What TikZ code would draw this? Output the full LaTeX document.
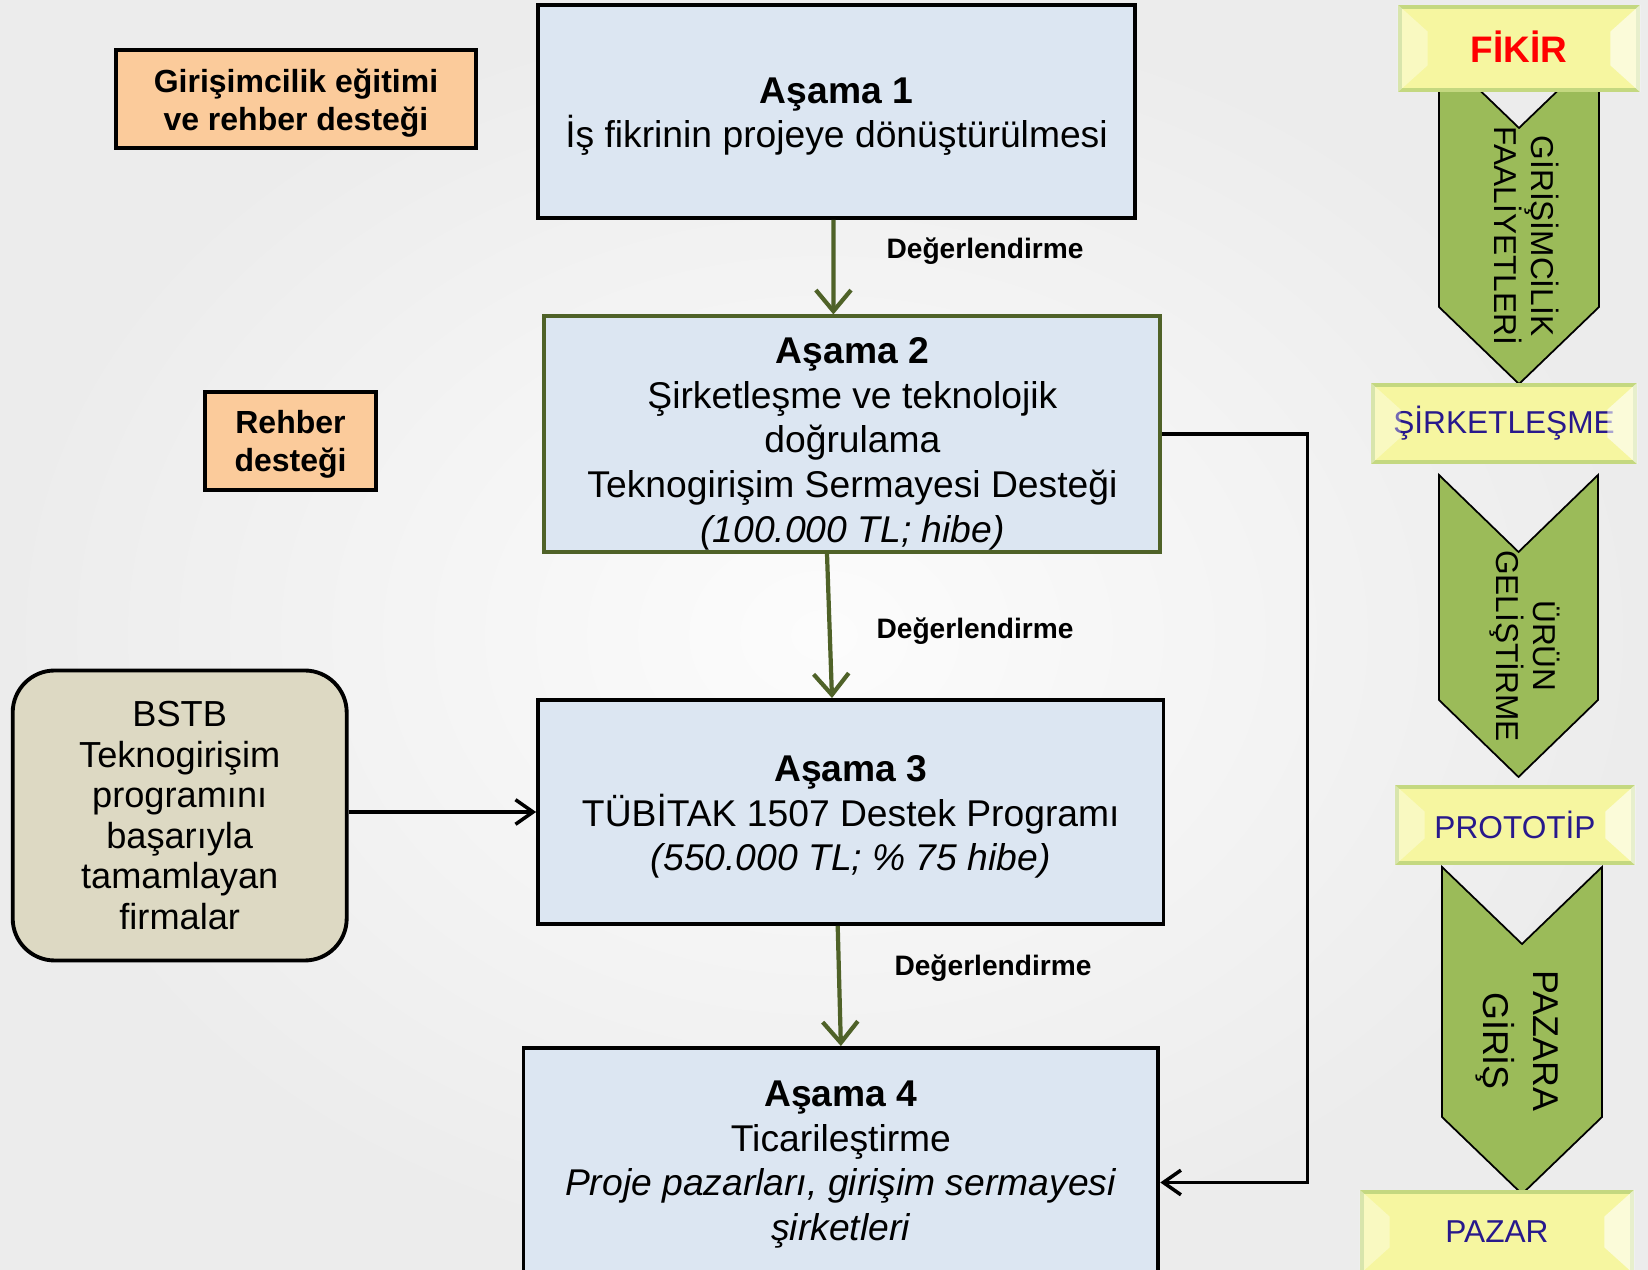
\documentclass[tikz,border=0pt]{standalone}
\usepackage{fontspec}
\setmainfont{Liberation Sans}
\usetikzlibrary{arrows.meta}

\definecolor{bggray}{RGB}{236,236,236}
\definecolor{asamablue}{RGB}{220,230,242}
\definecolor{olivedark}{RGB}{79,98,40}
\definecolor{peach}{RGB}{251,203,155}
\definecolor{khaki}{RGB}{221,217,195}
\definecolor{chevgreen}{RGB}{155,187,89}
\definecolor{lightyellow}{RGB}{246,246,160}
\definecolor{glowgreen}{RGB}{196,216,128}
\definecolor{navytext}{RGB}{40,25,140}

\tikzset{
  asamabox/.style={draw=black, line width=1.1pt, fill=asamablue, inner sep=0pt},
  asamatext/.style={align=center, inner sep=0pt, font=\fontsize{10.6}{12.7}\selectfont},
  peachbox/.style={draw=black, line width=1pt, fill=peach, inner sep=0pt},
  peachtext/.style={align=center, inner sep=0pt, font=\fontsize{9.1}{10.8}\selectfont\bfseries},
  firmbox/.style={draw=black, line width=1.1pt, fill=khaki, rounded corners=0.42cm,
    align=center, inner sep=0pt, font=\fontsize{10.3}{11.5}\selectfont},
  stagebox/.style={draw=glowgreen, line width=1.4pt, fill=lightyellow, inner sep=0pt,
    text=navytext, font=\fontsize{9}{10.8}\selectfont},
  chevron/.style={draw=black, line width=0.5pt, fill=chevgreen},
  chevtext/.style={rotate=-90, align=center, font=\fontsize{9}{10.5}\selectfont},
  evalarrow/.style={draw=olivedark, line width=1.2pt, -{Straight Barb[length=6pt,width=10pt]}},
  blackarrow/.style={draw=black, line width=1pt, -{Straight Barb[length=5pt,width=7pt]}},
  evallabel/.style={font=\fontsize{8}{9.6}\selectfont\bfseries},
}

% light side bevels of a stage box
\newcommand{\stagebevel}[1]{%
  \fill[white,opacity=0.35] (#1.north west) -- ([shift={(0.30,-0.27)}]#1.north west)
    -- ([shift={(0.30,0.27)}]#1.south west) -- (#1.south west) -- cycle;%
  \fill[white,opacity=0.6] (#1.north east) -- ([shift={(-0.30,-0.27)}]#1.north east)
    -- ([shift={(-0.30,0.27)}]#1.south east) -- (#1.south east) -- cycle;%
}

% one green chevron: x left, x right, y top corners, y side bottom
\newcommand{\stagechevron}[4]{%
  \draw[chevron] (#1,#3) -- ({(#1+#2)/2},{#3-0.77}) -- (#2,#3) -- (#2,#4)
    -- ({(#1+#2)/2},{#4-0.77}) -- (#1,#4) -- cycle;%
}

\begin{document}
\begin{tikzpicture}
                \useasboundingbox (0.000000,0.000000) rectangle (16.480000,12.700000);
                \clip (0.000000,0.000000) rectangle (16.480000,12.700000);

                % Drawing background
                \fill[bggray] (0.000000,0.000000) rectangle (16.480000,12.700000);%
                \shade[inner color=white!85!bggray, outer color=bggray] (0.000000,0.000000) rectangle (16.480000,12.700000);%

                % Drawing chevrons of the right column
                \stagechevron{14.390000}{15.990000}{12.190000}{9.630000}
                \stagechevron{14.390000}{15.980000}{7.950000}{5.700000}
                \stagechevron{14.420000}{16.020000}{4.030000}{1.530000}
                \node[chevtext] (girisim) at (15.270000,10.340000) {GİRİŞİMCİLİK\\FAALİYETLERİ};%
                \node[chevtext] (urun) at (15.250000,6.240000) {ÜRÜN\\GELİŞTİRME};%
                \node[chevtext, font=\fontsize{10.2}{14}\selectfont] (girisp) at (15.170000,2.290000) {PAZARA\\GİRİŞ};%

                % Drawing stage boxes
                \node[stagebox, minimum width=2.38cm, minimum height=0.83cm, text=red,
                  font=\fontsize{10.5}{12}\selectfont\bfseries] (fikir) at (15.190000,12.215000) {};%
                \node[text=red, font=\fontsize{10.5}{12}\selectfont\bfseries] (fikirtext) at ([yshift=0.02cm]fikir.center) {FİKİR};%
                \node[stagebox, minimum width=2.62cm, minimum height=0.77cm] (sirket) at (15.040000,8.465000) {ŞİRKETLEŞME};%
                \node[stagebox, minimum width=2.36cm, minimum height=0.76cm] (proto) at (15.150000,4.450000) {PROTOTİP};%
                \node[stagebox, minimum width=2.70cm, minimum height=0.80cm] (pazar) at (14.970000,0.380000) {PAZAR};%
                \stagebevel{fikir}
                \stagebevel{sirket}
                \stagebevel{proto}
                \stagebevel{pazar}

                % Drawing boxes of the stages
                \node[asamabox, minimum width=5.97cm, minimum height=2.13cm] (a1) at (8.365000,11.585000) {};%
                \node[asamatext] (a1text) at ([yshift=-0.05cm]a1.center)
                  {{\bfseries Aşama 1}\\İş fikrinin projeye dönüştürülmesi};%
                \node[asamabox, draw=olivedark, minimum width=6.16cm, minimum height=2.354cm] (a2) at (8.524000,8.359000) {};%
                \node[asamatext] (a2text) at ([yshift=-0.095cm]a2.center)
                  {{\bfseries Aşama 2}\\Şirketleşme ve teknolojik\\doğrulama\\Teknogirişim Sermayesi Desteği\\\textit{(100.000 TL; hibe)}};%
                \node[asamabox, minimum width=6.255cm, minimum height=2.24cm] (a3) at (8.508000,4.580000) {};%
                \node[asamatext] (a3text) at ([yshift=-0.05cm]a3.center)
                  {{\bfseries Aşama 3}\\TÜBİTAK 1507 Destek Programı\\\textit{(550.000 TL; \% 75 hibe)}};%
                \node[asamabox, minimum width=6.349cm, minimum height=2.27cm] (a4) at (8.409000,1.085000) {};%
                \node[asamatext] (a4text) at ([yshift=-0.03cm]a4.center)
                  {{\bfseries Aşama 4}\\Ticarileştirme\\\textit{Proje pazarları, girişim sermayesi}\\\textit{şirketleri}};%

                % Drawing support boxes
                \node[peachbox, minimum width=3.60cm, minimum height=0.98cm] (egitim) at (2.960000,11.710000) {};%
                \node[peachtext] (egitimtext) at ([yshift=-0.04cm]egitim.center) {Girişimcilik eğitimi\\ve rehber desteği};%
                \node[peachbox, minimum width=1.71cm, minimum height=0.98cm] (rehber) at (2.905000,8.290000) {};%
                \node[peachtext] (rehbertext) at ([yshift=-0.035cm]rehber.center) {Rehber\\desteği};%
                \node[firmbox, minimum width=3.34cm, minimum height=2.90cm] (bstb) at (1.797000,4.545000)
                  {BSTB\\Teknogirişim\\programını\\başarıyla\\tamamlayan\\firmalar};%

                % Drawing evaluation arrows
                \draw[evalarrow] ([xshift=-0.03cm]a1.south) -- ([xshift=-0.19cm]a2.north);%
                \draw[evalarrow] ([xshift=-0.254cm]a2.south) -- ([xshift=-0.188cm]a3.north);%
                \draw[evalarrow] ([xshift=-0.131cm]a3.south) -- (a4.north);%
                \node[evallabel] (deg1) at (9.850000,10.185000) {Değerlendirme};%
                \node[evallabel] (deg2) at (9.750000,6.385000) {Değerlendirme};%
                \node[evallabel] (deg3) at (9.930000,3.015000) {Değerlendirme};%

                % Drawing arrows into Asama 3 and Asama 4
                \draw[blackarrow] (bstb.east |- a3.west) -- (a3.west);%
                \draw[blackarrow] (a2.east) -- ++(1.45,0) |- ([yshift=-0.21cm]a4.east);%
\end{tikzpicture}
\end{document}
